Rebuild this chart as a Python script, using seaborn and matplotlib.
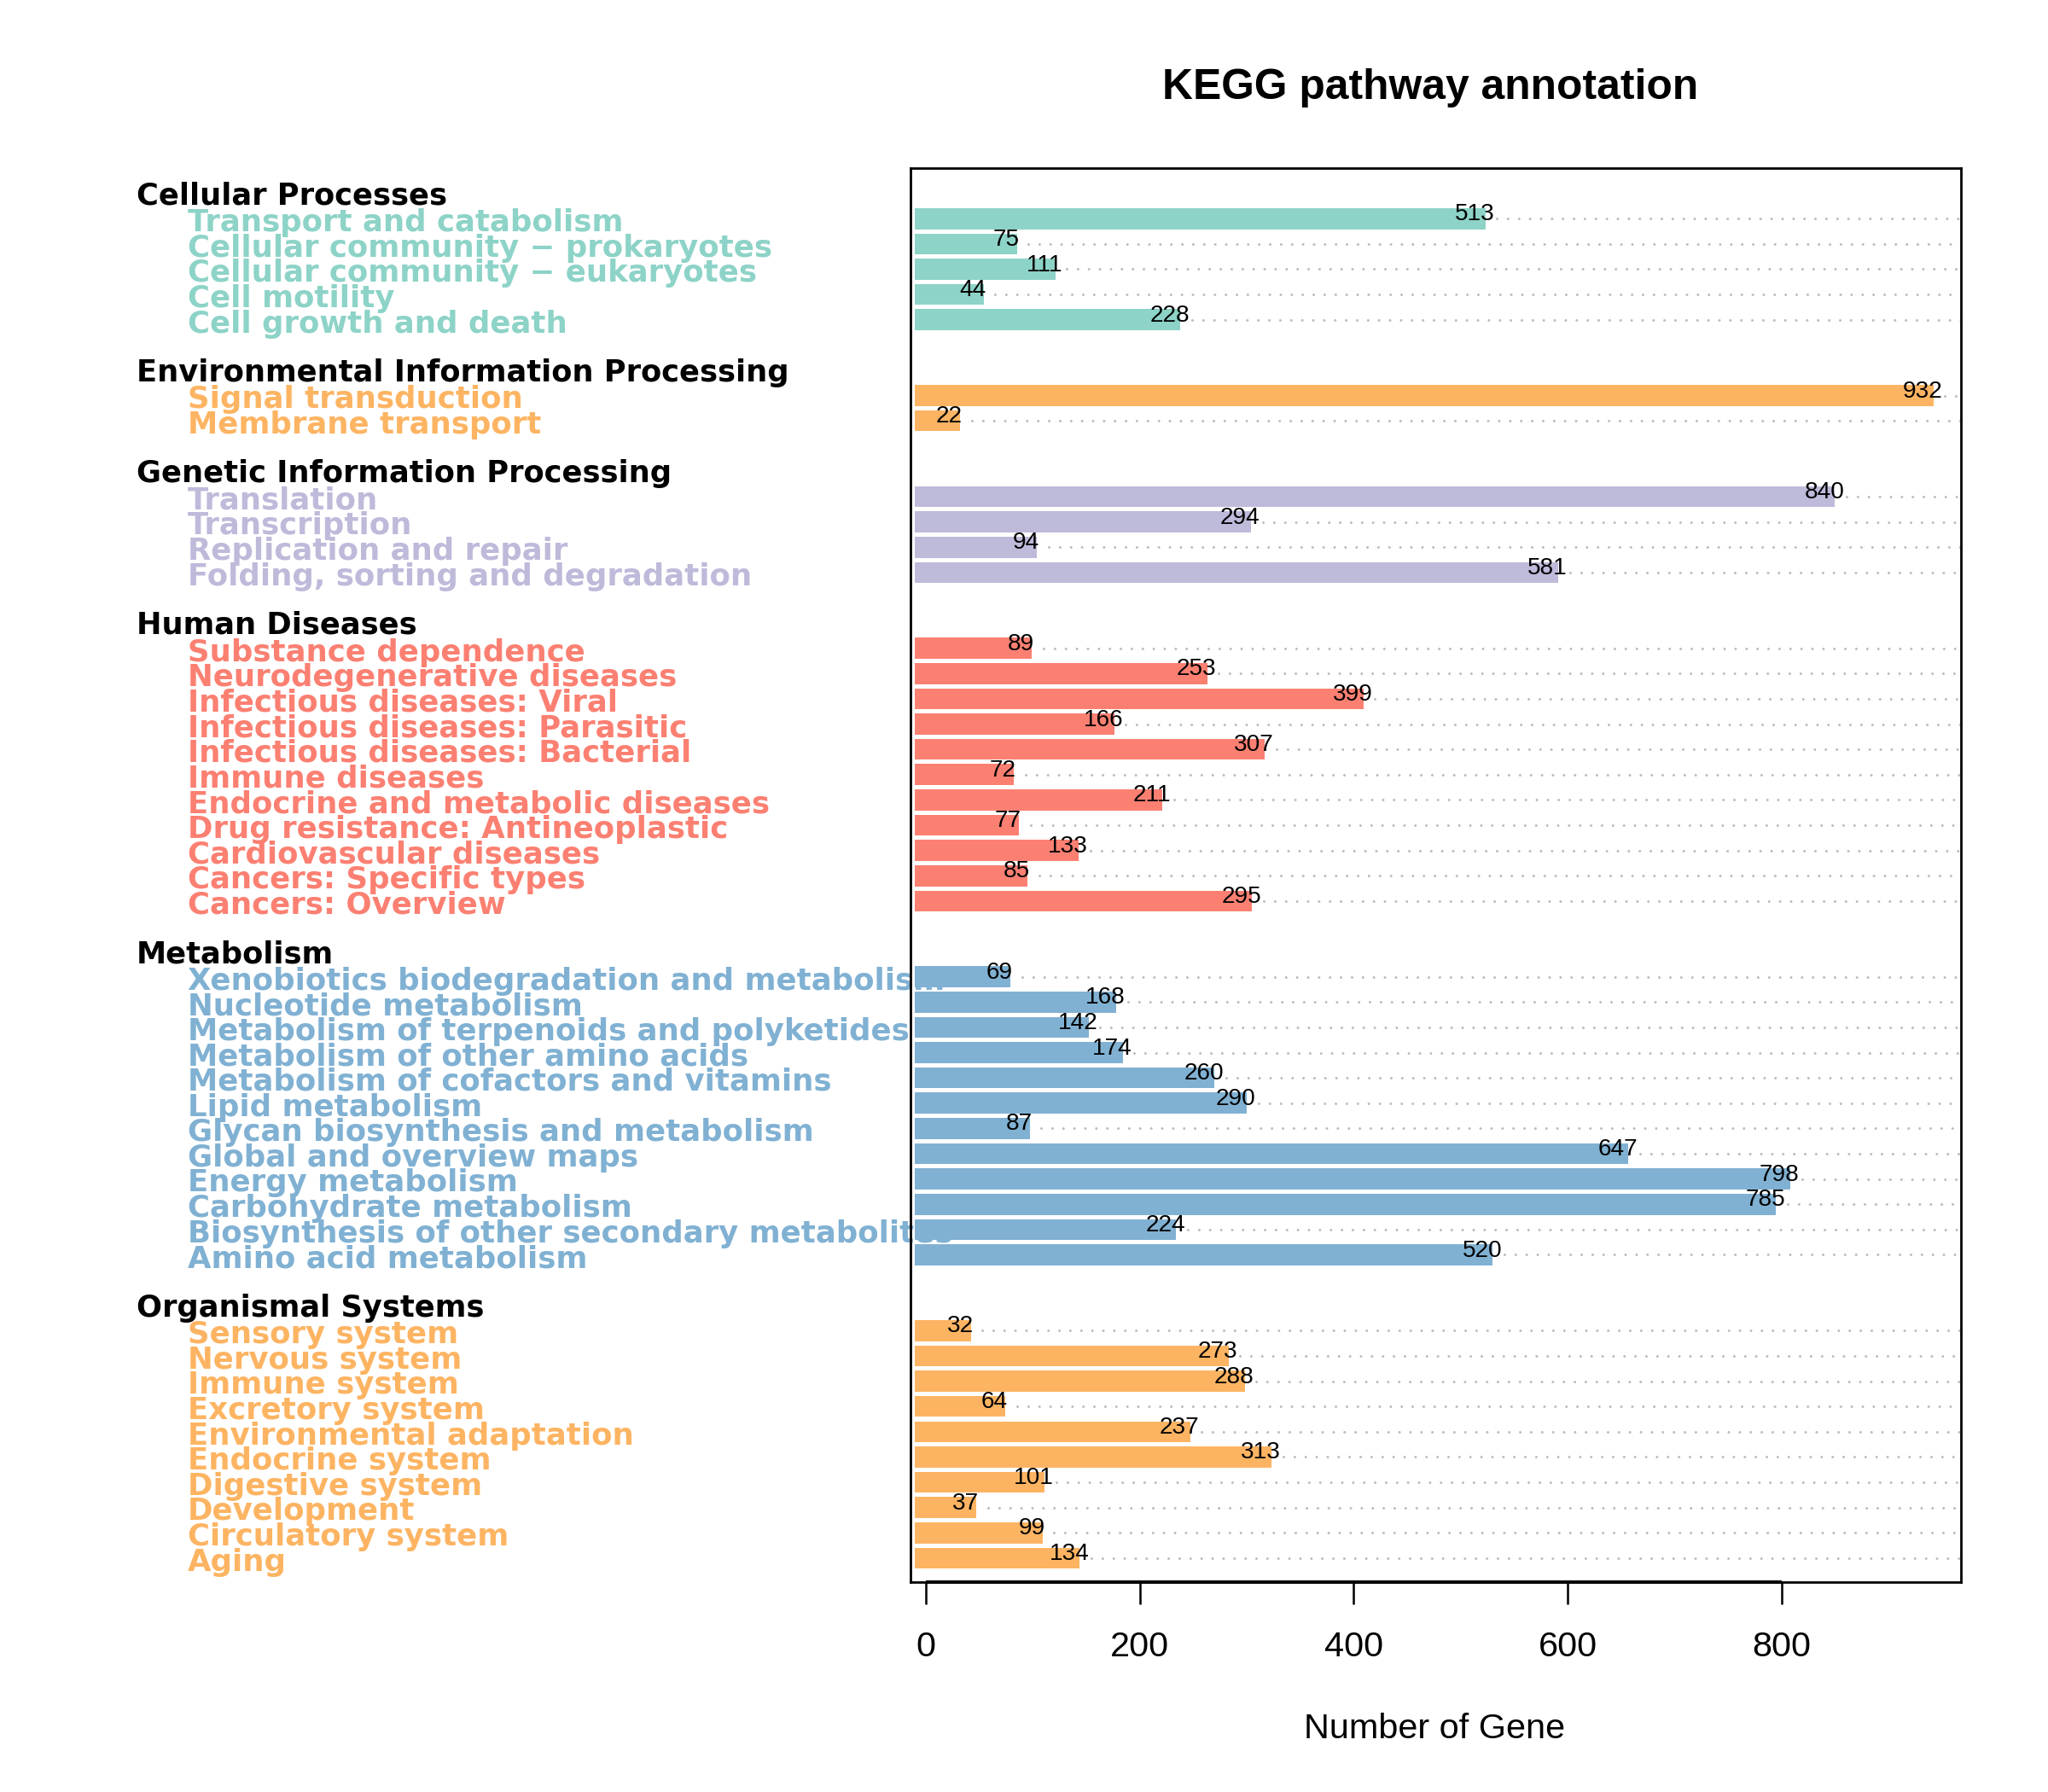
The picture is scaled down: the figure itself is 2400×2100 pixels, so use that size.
import numpy as np
import pandas as pd
import matplotlib
matplotlib.use("Agg")
import matplotlib.pyplot as plt
import matplotlib.transforms as mtransforms
import seaborn as sns

# ---------------- data ----------------
groups = ["Cellular Processes", "Environmental Information Processing",
          "Genetic Information Processing", "Human Diseases", "Metabolism",
          "Organismal Systems"]
group_colors = ["#8DD3C7", "#FDB462", "#BEBADA", "#FB8072", "#80B1D3", "#FDB462"]

cellular_terms = ["Transport and catabolism", "Cellular community \u2212 prokaryotes",
                  "Cellular community \u2212 eukaryotes", "Cell motility",
                  "Cell growth and death"]
cellular_counts = [513, 75, 111, 44, 228]

env_terms = ["Signal transduction", "Membrane transport"]
env_counts = [932, 22]

genetic_terms = ["Translation", "Transcription", "Replication and repair",
                 "Folding, sorting and degradation"]
genetic_counts = [840, 294, 94, 581]

human_terms = ["Substance dependence", "Neurodegenerative diseases",
               "Infectious diseases: Viral", "Infectious diseases: Parasitic",
               "Infectious diseases: Bacterial", "Immune diseases",
               "Endocrine and metabolic diseases", "Drug resistance: Antineoplastic",
               "Cardiovascular diseases", "Cancers: Specific types", "Cancers: Overview"]
human_counts = [89, 253, 399, 166, 307, 72, 211, 77, 133, 85, 295]

metab_terms = ["Xenobiotics biodegradation and metabolism", "Nucleotide metabolism",
               "Metabolism of terpenoids and polyketides",
               "Metabolism of other amino acids", "Metabolism of cofactors and vitamins",
               "Lipid metabolism", "Glycan biosynthesis and metabolism",
               "Global and overview maps", "Energy metabolism",
               "Carbohydrate metabolism", "Biosynthesis of other secondary metabolites",
               "Amino acid metabolism"]
metab_counts = [69, 168, 142, 174, 260, 290, 87, 647, 798, 785, 224, 520]

organ_terms = ["Sensory system", "Nervous system", "Immune system", "Excretory system",
               "Environmental adaptation", "Endocrine system", "Digestive system",
               "Development", "Circulatory system", "Aging"]
organ_counts = [32, 273, 288, 64, 237, 313, 101, 37, 99, 134]

x_ticks = [0, 200, 400, 600, 800]
title = "KEGG pathway annotation"
x_label = "Number of Gene"

# ---------------- layout table ----------------
all_terms = [cellular_terms, env_terms, genetic_terms, human_terms, metab_terms, organ_terms]
all_counts = [cellular_counts, env_counts, genetic_counts, human_counts, metab_counts, organ_counts]

records = []
header_rows = []
r = 0
for g, terms, counts in zip(groups, all_terms, all_counts):
    header_rows.append(r)
    for t, c in zip(terms, counts):
        r += 1
        records.append({"group": g, "term": t, "count": c, "row": r})
    r += 2
df = pd.DataFrame(records)
last_row = df["row"].max()

# ---------------- style ----------------
sns.set_theme(style="white")
plt.rcParams["font.family"] = ["Liberation Sans", "DejaVu Sans"]
plt.rcParams["text.color"] = "black"
plt.rcParams["xtick.color"] = "black"
plt.rcParams["axes.labelcolor"] = "black"

fig = plt.figure(figsize=(12, 10.5), dpi=200)
ax = fig.add_axes([0.44458, 0.11714, 0.51292, 0.78905])

XMIN, XMAX = -14.36, 967.77
PAD = 10
Y_BOTTOM = last_row + 0.95
Y_TOP = -1.0

palette = dict(zip(groups, group_colors))
sns.barplot(data=df, x="count", y="row", hue="group", palette=palette,
            orient="h", native_scale=True, dodge=False, width=0.83,
            saturation=1, errorbar=None, legend=False, linewidth=0, ax=ax,
            zorder=1)
for p in ax.patches:
    p.set_x(p.get_x() - PAD)
    p.set_width(p.get_width() + 2 * PAD)

# dotted guide lines
lc = ax.hlines(df["row"], df["count"] + 21, XMAX, colors="#BDBDBD",
               linewidth=1.1, linestyles=[(0, (0.01, 4.2))], zorder=0.5)
lc.set_capstyle("round")

# value labels
for _, row in df.iterrows():
    ax.text(row["count"], row["row"] + 0.07, str(row["count"]), ha="center",
            va="baseline", fontsize=10.1, color="black", zorder=5)

ax.set_xlim(XMIN, XMAX)
ax.set_ylim(Y_BOTTOM, Y_TOP)
ax.set_xticks(x_ticks)
ax.set_xticklabels([str(t) for t in x_ticks])
ax.set_yticks([])
ax.set_xlabel("")
ax.set_ylabel("")
ax.tick_params(axis="x", direction="out", length=9.4, width=0.9, pad=11,
               labelsize=14.9, colors="black", bottom=True)
for s in ax.spines.values():
    s.set_visible(True)
    s.set_color("black")
    s.set_linewidth(1.0)
ax.plot([x_ticks[0], x_ticks[-1]], [Y_BOTTOM] * 2, color="black",
        lw=1.4, clip_on=False, zorder=6, solid_capstyle="butt")

# category labels on the left
trans = mtransforms.blended_transform_factory(fig.transFigure, ax.transData)
for g, hr in zip(groups, header_rows):
    ax.text(160 / 2400, hr + 0.436, g, transform=trans, ha="left", va="baseline",
            fontsize=12.7, fontweight="bold", family="DejaVu Sans",
            color="black", clip_on=False, zorder=1.5)
color_of = dict(zip(groups, group_colors))
for _, row in df.iterrows():
    ax.text(220 / 2400, row["row"] + 0.5, row["term"], transform=trans,
            ha="left", va="baseline", fontsize=12.8, fontweight="bold",
            family="DejaVu Sans", color=color_of[row["group"]],
            clip_on=False, zorder=1.5)

fig.text(1676.5 / 2400, 1 - 115.7 / 2100, title, ha="center", va="baseline",
         fontsize=17.9, fontweight="bold", color="black")
fig.text(0.7004, 1 - 2037 / 2100, x_label, ha="center", va="baseline",
         fontsize=14.9, color="black")

fig.savefig("out.png", dpi=200, facecolor="white")
